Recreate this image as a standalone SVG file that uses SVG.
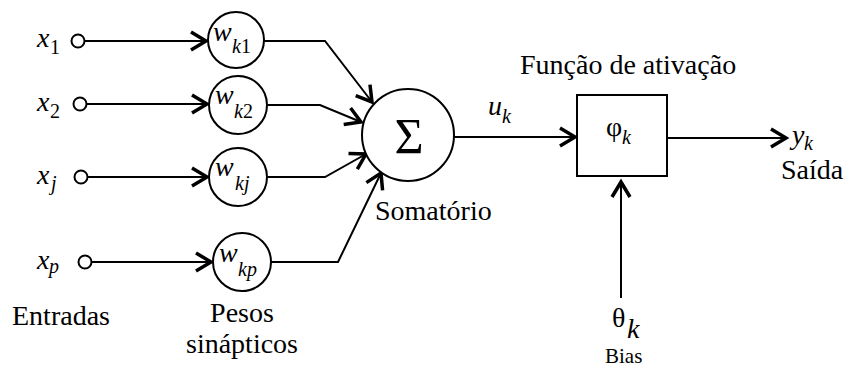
<svg xmlns="http://www.w3.org/2000/svg" width="847" height="370" viewBox="0 0 847 370">
<style>
text{font-family:"Liberation Serif",Tinos,"Times New Roman","Nimbus Roman","Noto Serif",FreeSerif,"DejaVu Serif",serif;fill:#000}
.lbl{font-size:28px}
.it{font-size:28px;font-style:italic}
.sub{font-size:20px}
.subi{font-size:20px;font-style:italic}
.node{fill:#fff;stroke:#000;stroke-width:2}
.pin{fill:#fff;stroke:#000;stroke-width:2}
.conn{fill:none;stroke:#000;stroke-width:2}
</style>
<defs>
<marker id="arr" markerUnits="userSpaceOnUse" viewBox="-20 -12 24 24" markerWidth="24" markerHeight="24" refX="0" refY="0" orient="auto">
<path d="M-15,-9 L0,0 L-15,9" fill="none" stroke="#000" stroke-width="3.5" stroke-linejoin="miter"/>
</marker>
</defs>
<rect width="847" height="370" fill="#fff"/>
<g id="connectors">
<line class="conn" x1="85" y1="41" x2="206" y2="41" marker-end="url(#arr)"/>
<line class="conn" x1="87" y1="104" x2="207" y2="104" marker-end="url(#arr)"/>
<line class="conn" x1="88" y1="177" x2="207" y2="177" marker-end="url(#arr)"/>
<line class="conn" x1="92" y1="262" x2="211" y2="262" marker-end="url(#arr)"/>
<polyline class="conn" points="264,41 325,41 372,102" marker-end="url(#arr)"/>
<polyline class="conn" points="267,105 320,105 361,122" marker-end="url(#arr)"/>
<polyline class="conn" points="267,177 325,177 366,154" marker-end="url(#arr)"/>
<polyline class="conn" points="271,262 338,262 381,173" marker-end="url(#arr)"/>
<line class="conn" x1="454" y1="137" x2="575" y2="137" marker-end="url(#arr)"/>
<line class="conn" x1="667" y1="138" x2="786" y2="138" marker-end="url(#arr)"/>
<line class="conn" x1="621" y1="298" x2="621" y2="182" marker-end="url(#arr)"/>
</g>
<g id="x1"><circle class="pin" cx="78" cy="41" r="6.5"/><text class="it" x="37" y="47">x</text><text class="sub" x="50" y="54">1</text></g>
<g id="x2"><circle class="pin" cx="80" cy="104" r="6.5"/><text class="it" x="37" y="111">x</text><text class="sub" x="50" y="118">2</text></g>
<g id="xj"><circle class="pin" cx="81" cy="177" r="6.5"/><text class="it" x="37" y="184">x</text><text class="subi" x="51" y="190">j</text></g>
<g id="xp"><circle class="pin" cx="85" cy="262" r="6.5"/><text class="it" x="37" y="269">x</text><text class="subi" x="49" y="273">p</text></g>
<g id="wk1"><circle class="node" cx="236" cy="40" r="28"/><text class="it" x="213" y="41">w</text><text class="subi" x="232" y="53">k<tspan font-style="normal">1</tspan></text></g>
<g id="wk2"><circle class="node" cx="238" cy="105" r="29"/><text class="it" x="215" y="104">w</text><text class="subi" x="234" y="118">k<tspan font-style="normal">2</tspan></text></g>
<g id="wkj"><circle class="node" cx="238" cy="177" r="29"/><text class="it" x="215" y="176">w</text><text class="subi" x="235" y="190">kj</text></g>
<g id="wkp"><circle class="node" cx="242" cy="262" r="29"/><text class="it" x="219" y="262">w</text><text class="subi" x="238" y="276">kp</text></g>
<g id="sum"><circle class="node" cx="408" cy="135" r="46"/><text x="409" y="153" font-size="50" text-anchor="middle">Σ</text><text class="lbl" x="375" y="220">Somatório</text></g>
<g id="uk"><text class="it" x="488" y="115">u</text><text class="subi" x="502" y="123">k</text></g>
<g id="activation"><text class="lbl" x="520" y="74">Função de ativação</text><rect class="node" x="577" y="95" width="90" height="81"/><text class="lbl" x="606" y="136">φ</text><text class="subi" x="622" y="144">k</text></g>
<g id="output"><text class="it" x="792" y="144">y</text><text class="subi" x="804" y="150" font-size="18">k</text><text class="lbl" x="781" y="179">Saída</text></g>
<g id="bias"><text class="lbl" x="612" y="327">θ</text><text class="it" x="627" y="338" font-size="22">k</text><text x="605" y="363" font-size="21">Bias</text></g>
<g id="labels"><text class="lbl" x="12" y="325">Entradas</text><text class="lbl" x="242" y="322" text-anchor="middle">Pesos</text><text class="lbl" x="242" y="353" text-anchor="middle">sinápticos</text></g>
</svg>
